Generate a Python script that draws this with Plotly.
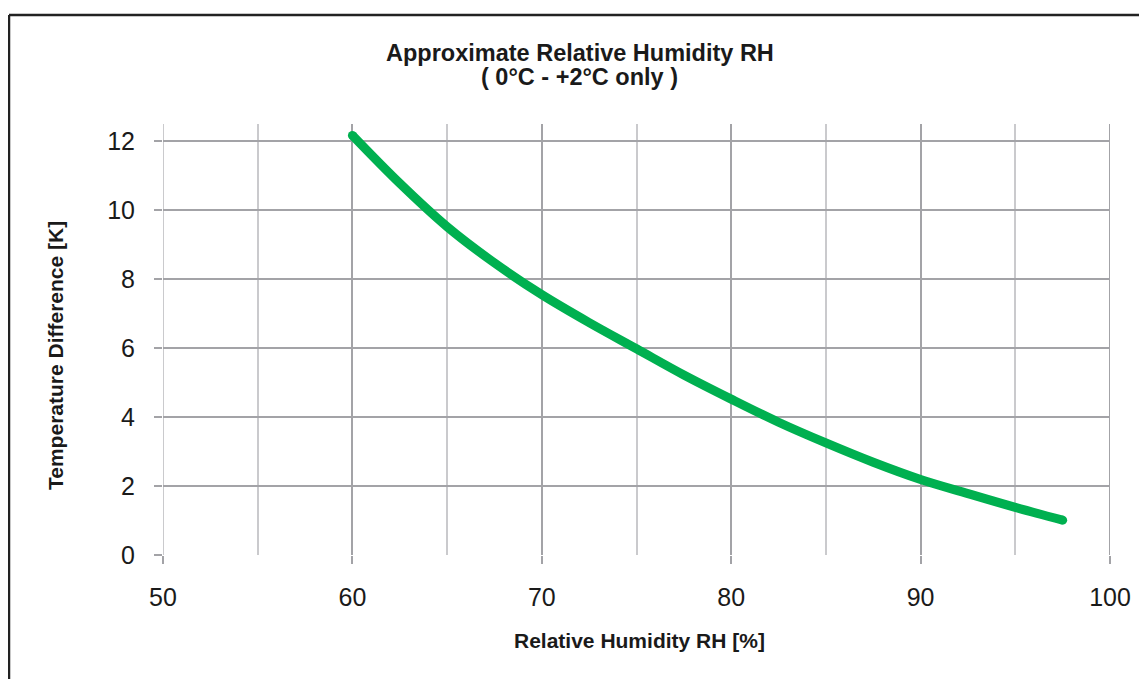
import plotly.graph_objects as go

# Data
rh = [60, 62.5, 65, 67.5, 70, 72.5, 75, 77.5, 80, 82.5, 85, 87.5, 90, 92.5, 95, 97.5]
dt = [12.17, 10.78, 9.52, 8.47, 7.55, 6.74, 5.98, 5.22, 4.52, 3.85, 3.25, 2.69, 2.19, 1.78, 1.38, 1.01]

x_ticks = [50, 60, 70, 80, 90, 100]
y_ticks = [0, 2, 4, 6, 8, 10, 12]
x_range = [50, 100]
y_range = [0, 12.5]

title_line1 = "Approximate Relative Humidity RH"
title_line2 = "( 0°C - +2°C only )"
x_title = "Relative Humidity RH [%]"
y_title = "Temperature Difference [K]"

GREEN = "#00b050"
TXT = "#1a1a1a"
GRID_MAJOR = "#a3a3a7"
GRID_MINOR = "#cacacd"
FONT = "Liberation Sans, Arial, sans-serif"

fig = go.Figure()
fig.add_trace(go.Scatter(
    x=rh, y=dt, mode="lines",
    line=dict(color=GREEN, width=9, shape="spline", smoothing=1.0),
    hoverinfo="x+y", showlegend=False,
))
fig.add_trace(go.Scatter(
    x=[rh[0], rh[-1]], y=[dt[0], dt[-1]], mode="markers",
    marker=dict(color=GREEN, size=9, line=dict(width=0)),
    hoverinfo="skip", showlegend=False,
))

# page body adds an 8px offset, so the figure is sized to fit the window
W, H = 1139, 671
L, R, T, B = 155, 37, 116, 124
pw, ph = W - L - R, H - T - B

def px_x(px):
    return (px - L) / pw

def px_y(py):
    return (H - B - py) / ph

# plot-area edge lines (left light, right dark like the grid)
fig.add_shape(type="line", xref="x", yref="paper", x0=x_range[0], x1=x_range[0], y0=0, y1=1,
              line=dict(color=GRID_MINOR, width=2), layer="below")
fig.add_shape(type="line", xref="x", yref="paper", x0=x_range[1], x1=x_range[1], y0=0, y1=1,
              line=dict(color=GRID_MAJOR, width=2), layer="below")

# outer chart border (left and top edges visible)
bx, by = px_x(1), px_y(7)
fig.add_shape(type="line", xref="paper", yref="paper", x0=bx, x1=bx, y0=by, y1=px_y(720),
              line=dict(color="#222222", width=2.5), layer="below")
fig.add_shape(type="line", xref="paper", yref="paper", x0=bx, x1=px_x(1200), y0=by, y1=by,
              line=dict(color="#222222", width=2.5), layer="below")

title_font = dict(family=FONT, size=23.5, color=TXT, weight="bold")
axis_title_font = dict(family=FONT, size=21, color=TXT, weight="bold")

fig.add_annotation(text=title_line1, xref="paper", yref="paper", x=px_x(572), y=px_y(45.5),
                   xanchor="center", yanchor="middle", showarrow=False, font=title_font)
fig.add_annotation(text=title_line2, xref="paper", yref="paper", x=px_x(571), y=px_y(69),
                   xanchor="center", yanchor="middle", showarrow=False, font=title_font)
fig.add_annotation(text=x_title, xref="paper", yref="paper", x=px_x(631), y=px_y(632),
                   xanchor="center", yanchor="middle", showarrow=False, font=axis_title_font)
fig.add_annotation(text=y_title, xref="paper", yref="paper", x=px_x(47), y=px_y(348),
                   xanchor="center", yanchor="middle", showarrow=False, textangle=-90,
                   font=axis_title_font)

fig.update_layout(
    width=W, height=H,
    margin=dict(l=L, r=R, t=T, b=B, pad=0),
    paper_bgcolor="white", plot_bgcolor="white",
    font=dict(family=FONT, color=TXT),
    xaxis=dict(
        range=x_range, tickvals=x_ticks, ticktext=[str(v) for v in x_ticks],
        showgrid=True, gridcolor=GRID_MAJOR, gridwidth=2,
        minor=dict(dtick=5, tick0=50, showgrid=True, gridcolor=GRID_MINOR, gridwidth=2, ticks=""),
        ticks="outside", ticklen=8, tickwidth=2, tickcolor=GRID_MAJOR,
        tickfont=dict(family=FONT, size=25, color=TXT),
        ticklabelstandoff=12,
        zeroline=False, showline=False,
    ),
    yaxis=dict(
        range=y_range, tickvals=y_ticks, ticktext=[str(v) for v in y_ticks],
        showgrid=True, gridcolor=GRID_MAJOR, gridwidth=2,
        ticks="outside", ticklen=8, tickwidth=2, tickcolor=GRID_MAJOR,
        tickfont=dict(family=FONT, size=25, color=TXT),
        ticklabelstandoff=14,
        zeroline=False, showline=False,
    ),
)

fig.write_html("out.html")
